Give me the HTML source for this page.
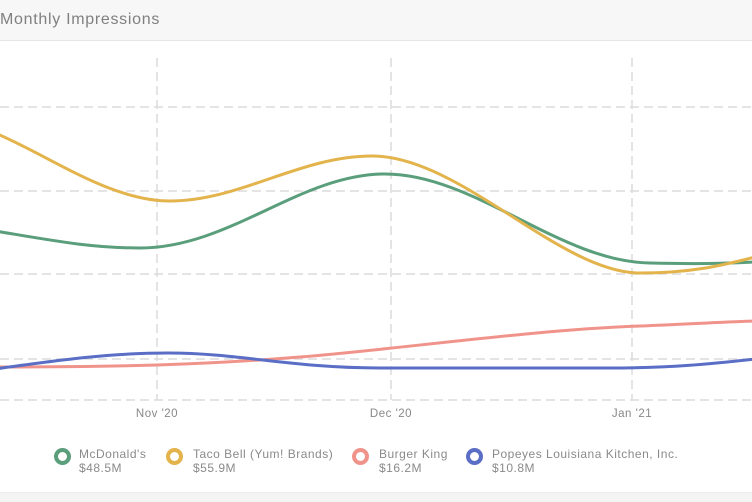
<!DOCTYPE html>
<html><head><meta charset="utf-8">
<style>
html,body{margin:0;padding:0;background:#fff;}
body{width:752px;height:501px;overflow:hidden;position:relative;font-family:"Liberation Sans",sans-serif;}
.hdr{position:absolute;left:0;top:0;width:752px;height:40px;background:#f7f7f7;border-bottom:1px solid #e6e6e6;}
.title{position:absolute;left:0;top:11px;font-size:16px;color:#808080;letter-spacing:0.7px;white-space:nowrap;}
.foot{position:absolute;left:0;top:492px;width:752px;height:9px;background:#f4f4f4;border-top:1px solid #ececec;}
.lg{position:absolute;font-size:12px;color:#8a8a8a;letter-spacing:0.5px;line-height:14px;white-space:nowrap;}
.ring{position:absolute;width:9px;height:9px;border-radius:50%;border:4px solid;}
.ax{position:absolute;top:408px;font-size:11.5px;color:#888;letter-spacing:0.5px;transform:translateX(-50%);white-space:nowrap;}
</style></head><body>
<div class="hdr"><div class="title">Monthly Impressions</div></div>
<svg style="position:absolute;left:0;top:0" width="752" height="501" viewBox="0 0 752 501">
<g stroke="#dcdcdc" stroke-width="1.5" stroke-dasharray="9 5" fill="none">
<line x1="0" y1="107" x2="752" y2="107"/>
<line x1="0" y1="191" x2="752" y2="191"/>
<line x1="0" y1="274" x2="752" y2="274"/>
<line x1="0" y1="359" x2="752" y2="359"/>
<line x1="0" y1="400" x2="752" y2="400"/>
<line x1="157" y1="58" x2="157" y2="400"/>
<line x1="391" y1="58" x2="391" y2="400"/>
<line x1="632" y1="58" x2="632" y2="400"/>
</g>
<g fill="none" stroke-width="3" stroke-linecap="round">
<path stroke="#f0948b" d="M-5 367 C120 367 200 365 300 357 C400 349 530 330 640 326 C690 324 720 322 755 321"/>
<path stroke="#5a6ec5" d="M-5 369 C60 360 110 353 168 353 C240 353 290 368 380 368 L610 368 C670 368 710 364 755 359"/>
<path stroke="#5a9e7c" d="M-5 231 C50 240 90 248 140 248 C230 248 300 174 385 174 C475 174 560 262 650 263 C690 264 720 264 755 262"/>
<path stroke="#e3b34c" d="M-5 133 C50 156 110 201 170 201 C240 201 300 156 372 156 C460 156 560 273 640 273 C690 273 720 266 755 257"/>
</g>
</svg>
<div class="ax" style="left:157px">Nov '20</div>
<div class="ax" style="left:391px">Dec '20</div>
<div class="ax" style="left:632px">Jan '21</div>

<div class="ring" style="left:54px;top:448px;border-color:#5a9e7c"></div>
<div class="lg" style="left:79px;top:447px">McDonald's<br>$48.5M</div>
<div class="ring" style="left:166px;top:448px;border-color:#e3b34c"></div>
<div class="lg" style="left:193px;top:447px">Taco Bell (Yum! Brands)<br>$55.9M</div>
<div class="ring" style="left:352px;top:448px;border-color:#f0948b"></div>
<div class="lg" style="left:379px;top:447px">Burger King<br>$16.2M</div>
<div class="ring" style="left:466px;top:448px;border-color:#5a6ec5"></div>
<div class="lg" style="left:492px;top:447px">Popeyes Louisiana Kitchen, Inc.<br>$10.8M</div>
<div class="foot"></div>
</body></html>
